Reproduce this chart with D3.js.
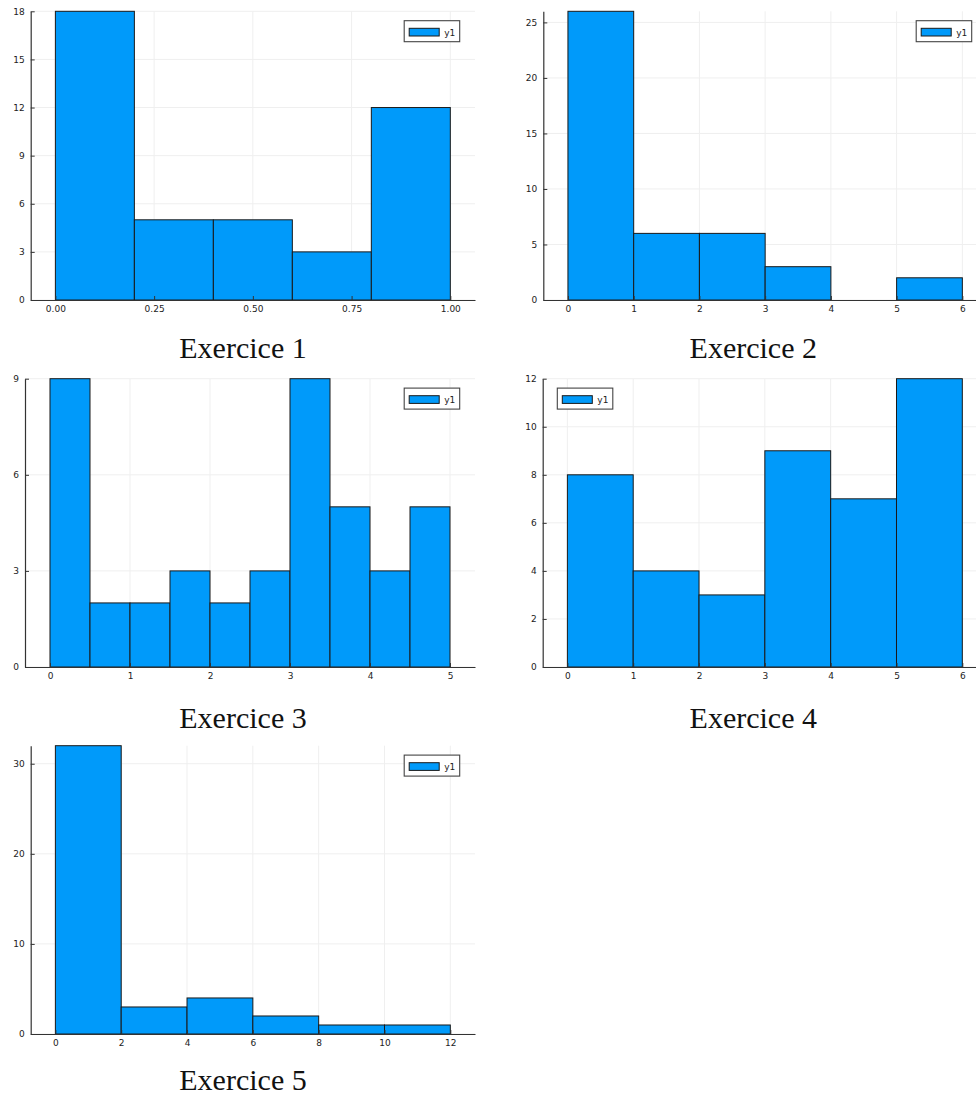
<!DOCTYPE html>
<html>
<head>
<meta charset="utf-8">
<script src="https://cdn.jsdelivr.net/npm/d3@7"></script>
<style>
  html, body { margin: 0; padding: 0; background: #fff; }
  svg { display: block; }
</style>
</head>
<body>
<svg id="fig" width="976" height="1097"></svg>
<script>
// Histogram bin edges and counts for each exercise
const ex1Edges = [0, 0.2, 0.4, 0.6, 0.8, 1.0];
const ex1Counts = [18, 5, 5, 3, 12];
const ex1XTicks = [0, 0.25, 0.5, 0.75, 1.0];
const ex1YTicks = [0, 3, 6, 9, 12, 15, 18];

const ex2Edges = [0, 1, 2, 3, 4, 5, 6];
const ex2Counts = [26, 6, 6, 3, 0, 2];
const ex2XTicks = [0, 1, 2, 3, 4, 5, 6];
const ex2YTicks = [0, 5, 10, 15, 20, 25];

const ex3Edges = [0, 0.5, 1, 1.5, 2, 2.5, 3, 3.5, 4, 4.5, 5];
const ex3Counts = [9, 2, 2, 3, 2, 3, 9, 5, 3, 5];
const ex3XTicks = [0, 1, 2, 3, 4, 5];
const ex3YTicks = [0, 3, 6, 9];

const ex4Edges = [0, 1, 2, 3, 4, 5, 6];
const ex4Counts = [8, 4, 3, 9, 7, 12];
const ex4XTicks = [0, 1, 2, 3, 4, 5, 6];
const ex4YTicks = [0, 2, 4, 6, 8, 10, 12];

const ex5Edges = [0, 2, 4, 6, 8, 10, 12];
const ex5Counts = [32, 3, 4, 2, 1, 1];
const ex5XTicks = [0, 2, 4, 6, 8, 10, 12];
const ex5YTicks = [0, 10, 20, 30];

const titles = ["Exercice 1", "Exercice 2", "Exercice 3", "Exercice 4", "Exercice 5"];
const seriesName = "y1";

// Panel placement on the page
const panels = [
  { edges: ex1Edges, counts: ex1Counts, xTicks: ex1XTicks, yTicks: ex1YTicks, fmt: d3.format(".2f"),
    left: 30.7, right: 475, top: 11.3, bottom: 300, titleX: 243, titleY: 358.3, legend: "right" },
  { edges: ex2Edges, counts: ex2Counts, xTicks: ex2XTicks, yTicks: ex2YTicks, fmt: d3.format("d"),
    left: 543.3, right: 987, top: 11.3, bottom: 300, titleX: 753.3, titleY: 358.3, legend: "right" },
  { edges: ex3Edges, counts: ex3Counts, xTicks: ex3XTicks, yTicks: ex3YTicks, fmt: d3.format("d"),
    left: 25, right: 475, top: 378.7, bottom: 667, titleX: 243, titleY: 728.3, legend: "right" },
  { edges: ex4Edges, counts: ex4Counts, xTicks: ex4XTicks, yTicks: ex4YTicks, fmt: d3.format("d"),
    left: 542.7, right: 987, top: 378.7, bottom: 667, titleX: 753.3, titleY: 728.3, legend: "left" },
  { edges: ex5Edges, counts: ex5Counts, xTicks: ex5XTicks, yTicks: ex5YTicks, fmt: d3.format("d"),
    left: 30.7, right: 475, top: 745.7, bottom: 1034, titleX: 243, titleY: 1090.3, legend: "right" }
];

const fill = "#009AFA";
const axisColor = "#333";
const gridColor = "#efefef";
const tickFont = "DejaVu Sans, sans-serif";

const svg = d3.select("#fig");

panels.forEach((p, i) => {
  const g = svg.append("g");
  const lo = p.edges[0], hi = p.edges[p.edges.length - 1];
  const pad = (hi - lo) * 0.0625;
  const x = d3.scaleLinear().domain([lo - pad, hi + pad]).range([p.left, p.right]);
  const y = d3.scaleLinear().domain([0, d3.max(p.counts)]).range([p.bottom, p.top]);

  // grid
  g.append("g").selectAll("line").data(p.xTicks).join("line")
    .attr("x1", d => x(d)).attr("x2", d => x(d))
    .attr("y1", p.top).attr("y2", p.bottom)
    .attr("stroke", gridColor).attr("stroke-width", 1);
  g.append("g").selectAll("line").data(p.yTicks).join("line")
    .attr("x1", p.left).attr("x2", p.right)
    .attr("y1", d => y(d)).attr("y2", d => y(d))
    .attr("stroke", gridColor).attr("stroke-width", 1);

  // bars
  const bins = p.counts.map((c, k) => ({ x0: p.edges[k], x1: p.edges[k + 1], c }))
    .filter(b => b.c > 0);
  g.append("g").selectAll("rect").data(bins).join("rect")
    .attr("x", b => x(b.x0))
    .attr("width", b => x(b.x1) - x(b.x0))
    .attr("y", b => y(b.c))
    .attr("height", b => y(0) - y(b.c))
    .attr("fill", fill)
    .attr("stroke", "#1a1a1a")
    .attr("stroke-width", 1);

  // axes
  const xAxis = d3.axisBottom(x).tickValues(p.xTicks).tickFormat(p.fmt)
    .tickSizeInner(-4).tickSizeOuter(0).tickPadding(6);
  const yAxis = d3.axisLeft(y).tickValues(p.yTicks).tickFormat(d3.format("d"))
    .tickSizeInner(-4).tickSizeOuter(0).tickPadding(6);

  const gx = g.append("g").attr("transform", `translate(0,${p.bottom})`).call(xAxis);
  const gy = g.append("g").attr("transform", `translate(${p.left},0)`).call(yAxis);
  [gx, gy].forEach(a => {
    a.select(".domain").attr("stroke", axisColor).attr("stroke-width", 1.2);
    a.selectAll(".tick line").attr("stroke", axisColor).attr("stroke-width", 1);
    a.selectAll(".tick text").attr("fill", "#222")
      .style("font-family", tickFont).style("font-size", "9px");
  });

  // legend
  const lw = 55.5, lh = 21;
  const lx = p.legend === "right" ? Math.min(p.right, 987) - 15.3 - lw : p.left + 14.6;
  const ly = p.top + 9.4;
  const lg = g.append("g").attr("transform", `translate(${lx},${ly})`);
  lg.append("rect").attr("width", lw).attr("height", lh)
    .attr("fill", "#fff").attr("stroke", "#444").attr("stroke-width", 1.1);
  lg.append("rect").attr("x", 5).attr("y", 7.6).attr("width", 30).attr("height", 7.7)
    .attr("fill", fill).attr("stroke", "#1a1a1a").attr("stroke-width", 1);
  lg.append("text").attr("x", 40).attr("y", 15.3).text(seriesName)
    .attr("fill", "#222").style("font-family", tickFont).style("font-size", "9px");

  // title
  svg.append("text")
    .attr("x", p.titleX).attr("y", p.titleY)
    .attr("text-anchor", "middle")
    .style("font-family", "Liberation Serif, serif")
    .style("font-size", "30px")
    .attr("fill", "#111")
    .text(titles[i]);
});
</script>
</body>
</html>
